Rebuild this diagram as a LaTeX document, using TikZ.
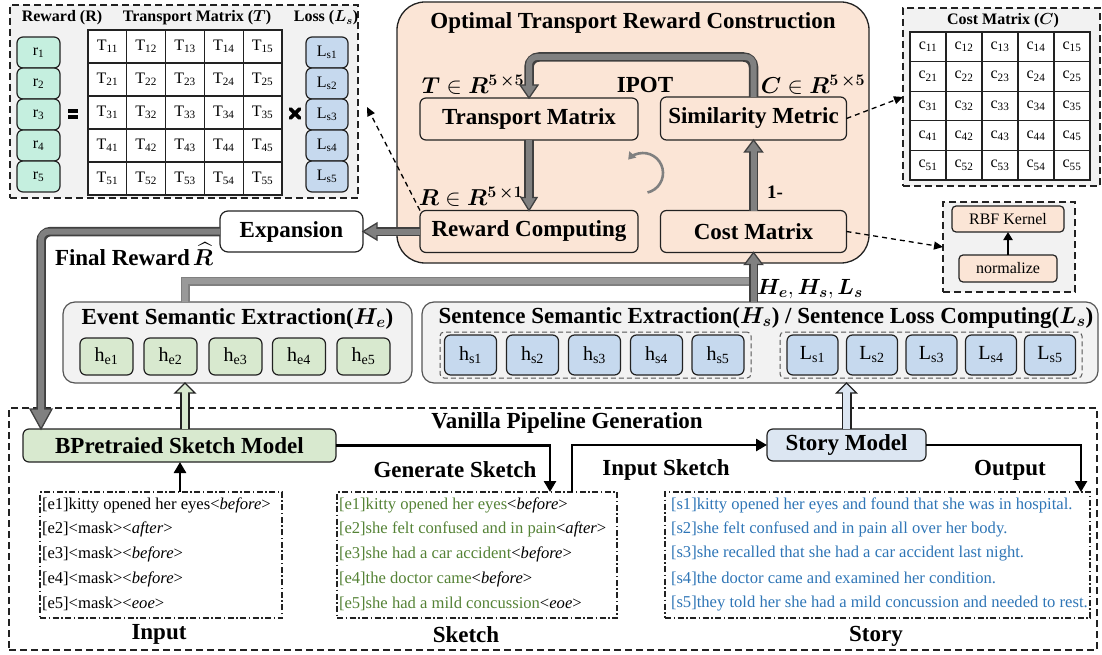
\RequirePackage{fix-cm}
\documentclass[tikz,border=0pt]{standalone}
\usepackage{fontspec}
\setmainfont{Liberation Serif}
\usepackage{amsmath,bm}
\usetikzlibrary{arrows.meta,calc}
\definecolor{peach}{HTML}{FBE5D6}
\definecolor{mint}{HTML}{C5EFDF}
\definecolor{lblue}{HTML}{C6D9EE}
\definecolor{lgreen}{HTML}{D8E9CF}
\definecolor{storyc}{HTML}{DCE6F2}
\definecolor{bg}{HTML}{F2F2F2}
\definecolor{boxc}{HTML}{222222}
\definecolor{boxg}{HTML}{555555}
\definecolor{gdark}{HTML}{404040}
\definecolor{gmid}{HTML}{808080}
\definecolor{glight}{HTML}{999999}
\definecolor{sktext}{HTML}{548235}
\definecolor{sttext}{HTML}{2E75B6}
\newcommand{\fL}{\fontsize{23}{27}\selectfont\bfseries}
\newcommand{\fH}{\fontsize{16}{19}\selectfont\bfseries}
\newcommand{\fM}{\fontsize{16}{19}\selectfont}
\newcommand{\fS}{\fontsize{16.6}{20}\selectfont}
\newcommand{\fh}{\fontsize{20}{24}\selectfont}
\newcommand{\tipat}[5]{\filldraw[#3, shift={#1}, rotate=#2] (0,0) -- (-#4,-#5) -- (-#4,#5) -- cycle;}
\newcommand{\fatarrow}[6]{%
  \draw[#4out, shorten >={(#5-3)*1pt}] #1;
  \tipat{#2}{#3}{#4tip}{#5}{#6}
  \draw[#4in, shorten >={(#5-3)*1pt}] #1;}
\begin{document}
\begin{tikzpicture}[x=1pt,y=-1pt,
  every node/.style={inner sep=0pt, outer sep=0pt},
  box/.style={draw=boxc, line width=1.2pt, rounded corners=6pt, align=center},
  cell/.style={draw=boxc, line width=1.1pt, fill=white, font=\fM},
  lbl/.style={font=\fL},
  hdr/.style={font=\fH},
  dashbox/.style={draw=boxc, line width=1.3pt, dash pattern=on 7pt off 4pt},
  thindash/.style={draw=boxg, line width=1pt, dash pattern=on 5pt off 3pt, rounded corners=4pt},
  dotbox/.style={draw=boxc, line width=1.2pt, dash pattern=on 6pt off 2.5pt on 1.5pt off 2.5pt},
  gout/.style={draw=gdark, line width=9.5pt, rounded corners=10pt},
  gin/.style={draw=gmid, line width=6pt, rounded corners=8pt},
  gtip/.style={draw=gdark, fill=gmid, line width=1.3pt, line join=miter},
  grout/.style={draw=boxc, line width=10pt},
  grin/.style={draw=lgreen, line width=6.5pt},
  grtip/.style={draw=boxc, fill=lgreen, line width=1.3pt, line join=miter},
  blout/.style={draw=boxc, line width=10pt},
  blin/.style={draw=storyc, line width=6.5pt},
  bltip/.style={draw=boxc, fill=storyc, line width=1.3pt, line join=miter},
  lout/.style={draw=gmid, line width=9pt},
  lin/.style={draw=glight, line width=6.5pt},
  barrow/.style={draw=black, line width=2.6pt, -{Triangle[length=11pt,width=12pt]}},
  darrow/.style={draw=black, line width=1.3pt, dash pattern=on 5pt off 4pt, -{Triangle[length=9pt,width=8pt]}},
  txt/.style={anchor=west, font=\fS}
]
\useasboundingbox (0,0) rectangle (1102,655);

% ---------- top-left: reward = T x L ----------
\node[dashbox, fill=bg, minimum width=348pt, minimum height=193pt] (tl) at (184,101.5) {};
\node[hdr] at (62,18) {Reward (R)};
\node[hdr] at (197,18) {Transport Matrix ($\bm{T}$)};
\node[hdr] at (326,18) {Loss ($\bm{L_s}$)};
\foreach \i/\yy in {1/52.5,2/83.5,3/114.5,4/145.5,5/176.5} {
  \node[box, fill=mint, minimum width=43pt, minimum height=31pt, font=\fM] (r\i) at (38.5,\yy) {r\textsubscript{\i}};
  \node[box, fill=lblue, minimum width=42pt, minimum height=31pt, font=\fM] (ls\i) at (327,\yy) {L\textsubscript{s\i}};
}
\foreach \r in {1,...,5} {
  \foreach \c in {1,...,5} {
    \node[cell, minimum width=38.8pt, minimum height=33pt] (T\r\c) at ({107.4+38.8*(\c-1)},{46.5+33*(\r-1)}) {T\textsubscript{\r\c}};
  }
}
\fill[black] (68,109) rectangle (78,113);
\fill[black] (68,115.5) rectangle (78,119.5);
\draw[line width=3.8pt, line cap=round] (290.5,109) -- (299.5,118) (290.5,118) -- (299.5,109);

% ---------- cost matrix (C) ----------
\node[dashbox, fill=bg, minimum width=197pt, minimum height=178pt] (cmbox) at (1001.5,97) {};
\node[hdr] at (1003,21) {Cost Matrix ($\bm{C}$)};
\foreach \r in {1,...,5} {
  \foreach \c in {1,...,5} {
    \node[cell, minimum width=36pt, minimum height=29.6pt] (C\r\c) at ({928+36*(\c-1)},{46.8+29.6*(\r-1)}) {c\textsubscript{\r\c}};
  }
}

% ---------- RBF ----------
\node[dashbox, fill=bg, minimum width=132pt, minimum height=90pt] (rbfbox) at (1009,247) {};
\node[box, fill=peach, rounded corners=4pt, minimum width=112pt, minimum height=26pt, font=\fM] (rbf) at (1008,219) {RBF Kernel};
\node[box, fill=peach, rounded corners=4pt, minimum width=98pt, minimum height=27pt, font=\fM] (nrm) at (1008,268.5) {normalize};
\draw[draw=black, line width=2pt, -{Triangle[length=8pt,width=9pt]}] (nrm.north) -- (rbf.south);

% ---------- OT box ----------
\node[draw=boxc, line width=1.3pt, fill=peach, rounded corners=28pt, minimum width=472pt, minimum height=261pt] (ot) at (633,132.5) {};
\node[lbl] at (633,23) {Optimal Transport Reward Construction};
\node[box, fill=peach, minimum width=218pt, minimum height=42pt, font=\fL] (tm) at (529,119) {Transport Matrix};
\node[box, fill=peach, minimum width=186pt, minimum height=43pt, font=\fL] (sm) at (753.5,118.5) {Similarity Metric};
\node[box, fill=peach, minimum width=218pt, minimum height=42pt, font=\fL] (rc) at (529,231.5) {Reward Computing};
\node[box, fill=peach, minimum width=186pt, minimum height=42pt, font=\fL] (cm) at (753.5,231.5) {Cost Matrix};
\node[lbl] at (473,85) {$\bm{T}\in\bm{R}^{\bm{5}\,\bm{\times}\bm{5}}$};
\node[lbl] at (645,85) {IPOT};
\node[lbl] at (813,85) {$\bm{C}\in\bm{R}^{\bm{5}\,\bm{\times}\bm{5}}$};
\node[lbl] at (471,197) {$\bm{R}\in\bm{R}^{\bm{5}\,\bm{\times}\bm{1}}$};
\node[font=\fontsize{19}{22}\selectfont\bfseries] at (775,192) {1-};
\draw[draw=gmid, line width=2.6pt, -{Triangle[length=7pt,width=9pt]}] (643,173) ++(77:20) arc[start angle=77, end angle=-138, radius=20];

\fatarrow{(sm.north) -- ++(0,-40) -| (tm.north)}{(tm.north)}{-90}{g}{13}{9}
\fatarrow{(tm.south) -- (rc.north)}{(rc.north)}{-90}{g}{13}{8}
\fatarrow{(cm.north) -- (sm.south)}{(sm.south)}{90}{g}{12}{9}

% ---------- expansion ----------
\node[box, fill=white, rounded corners=8pt, minimum width=143pt, minimum height=41pt, font=\fL] (exp) at (291.5,231.5) {Expansion};
\node[lbl, anchor=west] (frl) at (55,258) {Final Reward};
\node[lbl, anchor=base west] (frh) at ($(frl.base east)+(3,0)$) {$\widehat{\bm{R}}$};

% ---------- extraction boxes ----------
\node[box, draw=boxg, fill=bg, rounded corners=12pt, minimum width=349pt, minimum height=81pt] (ev) at (237.5,342.5) {};
\node[lbl] at (237.5,319) {Event Semantic Extraction($\bm{H_e}$)};
\foreach \i/\xx in {1/106.5,2/170.5,3/235.5,4/299,5/363.5}
  \node[box, fill=lgreen, minimum width=53pt, minimum height=37pt, font=\fh] (he\i) at (\xx,356.5) {h\textsubscript{e\i}};

\node[box, draw=boxg, fill=bg, rounded corners=12pt, minimum width=676pt, minimum height=81pt] (sent) at (760,342.5) {};
\node[lbl] at (766,318) {Sentence Semantic Extraction($\bm{H_s}$) / Sentence Loss Computing($\bm{L_s}$)};
\node[thindash, minimum width=311pt, minimum height=46pt] (hsg) at (595.5,355) {};
\node[thindash, minimum width=302pt, minimum height=46pt] (lsg) at (931,355) {};
\foreach \i/\xx in {1/470.5,2/532.5,3/594.5,4/656.5,5/718}
  \node[box, fill=lblue, minimum width=52pt, minimum height=40pt, font=\fh] (hs\i) at (\xx,355) {h\textsubscript{s\i}};
\foreach \i/\xx in {1/812.5,2/872,3/931.5,4/991,5/1050}
  \node[box, fill=lblue, minimum width=51pt, minimum height=40pt, font=\fh] (lsb\i) at (\xx,355) {L\textsubscript{s\i}};
\node[font=\fontsize{22}{26}\selectfont\bfseries] at (810,289) {$\bm{H_e}, \bm{H_s}, \bm{L_s}$};

% ---------- vanilla pipeline ----------
\node[dashbox, minimum width=1088pt, minimum height=242pt] (van) at (553,529) {};
\node[lbl] at (567,423) {Vanilla Pipeline Generation};
\node[box, fill=lgreen, minimum width=313pt, minimum height=33pt, font=\fL] (bp) at (179.5,445.5) {BPretraied Sketch Model};
\node[box, fill=storyc, minimum width=159pt, minimum height=32pt, font=\fL] (story) at (846.5,445) {Story Model};

\node[dotbox, minimum width=242pt, minimum height=126pt] (inp) at (161,555) {};
\node[dotbox, minimum width=280pt, minimum height=126pt] (sk) at (477,555) {};
\node[dotbox, minimum width=425pt, minimum height=126pt] (st) at (877.5,555) {};

\node[txt] (i1) at (42,505) {[e1]kitty opened her eyes<\textit{before}>};
\node[txt] (i2) at (42,529.5) {[e2]<mask><\textit{after}>};
\node[txt] (i3) at (42,554) {[e3]<mask><\textit{before}>};
\node[txt] (i4) at (42,579) {[e4]<mask><\textit{before}>};
\node[txt] (i5) at (42,603.5) {[e5]<mask><\textit{eoe}>};

\node[txt] (k1) at (339,505) {\textcolor{sktext}{[e1]kitty opened her eyes}<\textit{before}>};
\node[txt] (k2) at (339,529.5) {\textcolor{sktext}{[e2]she felt confused and in pain}<\textit{after}>};
\node[txt] (k3) at (339,554) {\textcolor{sktext}{[e3]she had a car accident}<\textit{before}>};
\node[txt] (k4) at (339,579) {\textcolor{sktext}{[e4]the doctor came}<\textit{before}>};
\node[txt] (k5) at (339,603.5) {\textcolor{sktext}{[e5]she had a mild concussion}<\textit{eoe}>};

\node[txt, text=sttext] (s1) at (671,505) {[s1]kitty opened her eyes and found that she was in hospital.};
\node[txt, text=sttext] (s2) at (671,529.5) {[s2]she felt confused and in pain all over her body.};
\node[txt, text=sttext] (s3) at (671,554) {[s3]she recalled that she had a car accident last night.};
\node[txt, text=sttext] (s4) at (671,579) {[s4]the doctor came and examined her condition.};
\node[txt, text=sttext] (s5) at (671,603.5) {[s5]they told her she had a mild concussion and needed to rest.};

\node[lbl] at (159,634) {Input};
\node[lbl] at (455,470) {Generate Sketch};
\node[lbl] at (466,635) {Sketch};
\node[lbl] at (666,470) {Input Sketch};
\node[lbl] at (1010,470) {Output};
\node[lbl] at (876,636) {Story};

% ---------- coordinates ----------
\coordinate (tlin) at (367,107);
\coordinate (fr) at (41,429);
\coordinate (bpup) at (185,429);
\coordinate (jx) at (753.5,281);
\coordinate (inpup) at (180,492);
\coordinate (skin) at (550,492);
\coordinate (skout) at (572,492);
\coordinate (stin) at (1081,492);

% ---------- connectors ----------
\draw[lout] (bpup |- ev.north) |- (jx);
\draw[lin] (bpup |- ev.north) |- (jx);
\fatarrow{(cm.south |- sent.north) -- (cm.south)}{(cm.south)}{90}{g}{12}{9}
\fatarrow{(rc.west) -- (exp.east)}{(exp.east)}{180}{g}{14}{8.5}
\fatarrow{(exp.west) -| (fr)}{(fr)}{-90}{g}{20}{11}
\fatarrow{(bpup) -- (bpup |- ev.south)}{(bpup |- ev.south)}{90}{gr}{10}{10}
\fatarrow{(story.north) -- (story.north |- sent.south)}{(story.north |- sent.south)}{90}{bl}{10}{10}

\draw[barrow] (inpup) -- (inpup |- bp.south);
\draw[barrow] (bp.east) -| (skin);
\draw[barrow] (skout) |- (story.west);
\draw[barrow] (story.east) -| (stin);

\draw[darrow] (rc.north west) -- (tlin);
\draw[darrow] (sm.east) -- (cmbox.west);
\draw[darrow] (cm.east) -- (rbfbox.west);
\end{tikzpicture}
\end{document}
